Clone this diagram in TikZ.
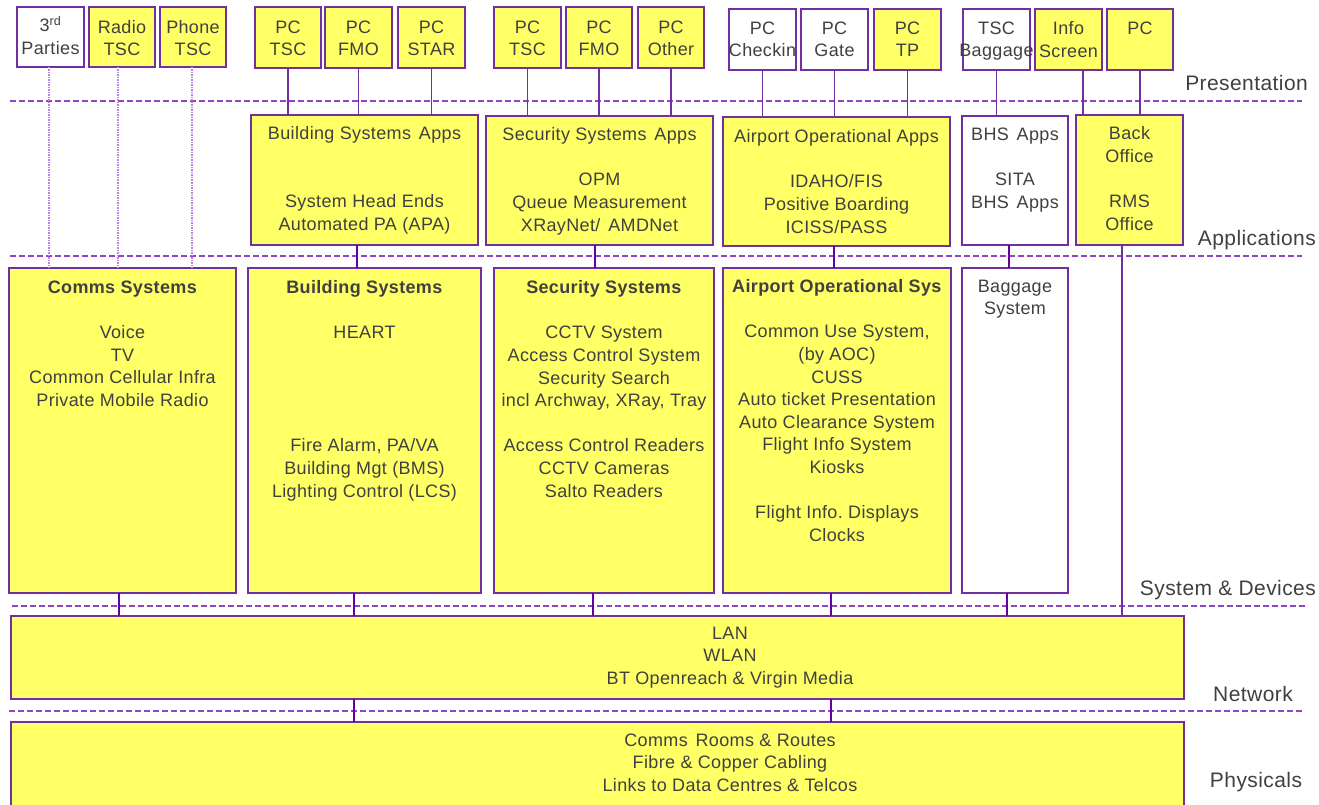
\documentclass[tikz,border=0pt]{standalone}
\usepackage{fontspec}
\setmainfont[LetterSpace=2]{Liberation Sans}
\definecolor{boxyellow}{RGB}{255,255,102}
\definecolor{edgepurple}{RGB}{112,48,160}
\definecolor{seppurple}{RGB}{140,70,195}
\definecolor{linkpurple}{RGB}{100,0,165}
\definecolor{dotpurple}{RGB}{185,130,225}
\definecolor{txtgray}{RGB}{64,64,64}

\tikzset{
  ybox/.style={draw=edgepurple, fill=boxyellow, line width=1.4pt, rectangle, inner sep=0pt, outer sep=0pt},
  wbox/.style={ybox, fill=white},
  boxtext/.style={text=txtgray, align=center, inner sep=0pt, font=\fontsize{18}{22.6}\selectfont},
  layertext/.style={text=txtgray, inner sep=0pt, font=\fontsize{21}{25}\selectfont},
  separator/.style={draw=seppurple, line width=1.3pt, dash pattern=on 5.5pt off 3.5pt},
  thinlink/.style={draw=edgepurple, line width=1.5pt},
  thicklink/.style={draw=linkpurple, line width=2.8pt},
  dotlink/.style={draw=dotpurple, line width=1.6pt, dash pattern=on 1.5pt off 1pt}
}

% \rbox{name}{style}{x1}{y1}{x2}{y2}: rectangle from top-left to bottom-right
\newcommand\rbox[6]{%
  \node[#2, anchor=north west, minimum width={#5-#3}, minimum height={#6-#4}] (#1) at (#3,#4) {};}
% \btext{name}{box}{offset}{text}: text hanging from the top of a box
\newcommand\btext[4]{%
  \node[boxtext, anchor=north, yshift=-#3pt] (#1) at (#2.north) {#4};}
% a slightly widened word gap
\newcommand\wgap{\ \hspace{2.5pt}}

\begin{document}
\frenchspacing
\begin{tikzpicture}[x=1pt, y=-1pt]
\useasboundingbox (0,0) rectangle (1319,805);

% layer separators
\draw[separator] (10,101) -- (1302,101);
\draw[separator] (10,256) -- (1302,256);
\draw[separator] (12,606) -- (1305,606);
\draw[separator] (9,711) -- (1302,711);

% layer labels
\node[layertext, anchor=east] (lpres) at (1308,83) {Presentation};
\node[layertext, anchor=east] (lapps) at (1316,240) {Applications};
\node[layertext, anchor=east] (lsys)  at (1316,590) {System \& Devices};
\node[layertext] (lnet)  at (1253,694) {Network};
\node[layertext] (lphys) at (1256,782) {Physicals};

% presentation layer
\rbox{p3rd}{wbox}{17}{7}{84}{67}
\rbox{pradio}{ybox}{89}{7}{155}{67}
\rbox{pphone}{ybox}{160}{7}{226}{67}
\rbox{ptsca}{ybox}{255}{7}{321}{68}
\rbox{pfmoa}{ybox}{325}{7}{392}{68}
\rbox{pstar}{ybox}{398}{7}{465}{68}
\rbox{ptscb}{ybox}{494}{7}{561}{68}
\rbox{pfmob}{ybox}{566}{7}{632}{68}
\rbox{pother}{ybox}{638}{7}{704}{68}
\rbox{pcheck}{wbox}{729}{9}{796}{70}
\rbox{pgate}{wbox}{801}{9}{868}{70}
\rbox{ptp}{ybox}{874}{9}{941}{70}
\rbox{ptscbag}{wbox}{963}{9}{1030}{70}
\rbox{pinfo}{ybox}{1035}{9}{1102}{70}
\rbox{ppc}{ybox}{1107}{9}{1173}{70}

\btext{t3rd}{p3rd}{9}{3\textsuperscript{rd}\\Parties}
\btext{tradio}{pradio}{13}{Radio\\TSC}
\btext{tphone}{pphone}{13}{Phone\\TSC}
\btext{ttsca}{ptsca}{13.5}{PC\\TSC}
\btext{tfmoa}{pfmoa}{13.5}{PC\\FMO}
\btext{tstar}{pstar}{13.5}{PC\\STAR}
\btext{ttscb}{ptscb}{13.5}{PC\\TSC}
\btext{tfmob}{pfmob}{13.5}{PC\\FMO}
\btext{tother}{pother}{13.5}{PC\\Other}
\btext{tcheck}{pcheck}{12.5}{PC\\Checkin}
\btext{tgate}{pgate}{12.5}{PC\\Gate}
\btext{ttp}{ptp}{12.5}{PC\\TP}
\btext{ttscbag}{ptscbag}{12.5}{TSC\\Baggage}
\btext{tinfo}{pinfo}{12.5}{Info\\Screen}
\btext{tpc}{ppc}{12.5}{PC}

% applications layer
\rbox{abld}{ybox}{251}{115}{478}{245}
\rbox{asec}{ybox}{486}{116}{713}{245}
\rbox{aair}{ybox}{723}{117}{950}{246}
\rbox{abhs}{wbox}{962}{116}{1068}{245}
\rbox{aback}{ybox}{1076}{115}{1183}{245}

\btext{tabld}{abld}{11.5}{Building Systems\wgap Apps\\ \\ \\System Head Ends\\Automated PA (APA)}
\btext{tasec}{asec}{11.5}{Security Systems\wgap Apps\\ \\OPM\\Queue Measurement\\XRayNet/\wgap AMDNet}
\btext{taair}{aair}{12.5}{Airport Operational Apps\\ \\IDAHO/FIS\\Positive Boarding\\ICISS/PASS}
\btext{tabhs}{abhs}{11.5}{BHS\wgap Apps\\ \\SITA\\BHS\wgap Apps}
\btext{taback}{aback}{11.5}{Back\\Office\\ \\RMS\\Office}

% systems & devices layer
\rbox{scomms}{ybox}{9}{268}{236}{593}
\rbox{sbld}{ybox}{248}{268}{481}{593}
\rbox{ssec}{ybox}{494}{268}{714}{593}
\rbox{sair}{ybox}{723}{268}{951}{593}
\rbox{sbag}{wbox}{962}{268}{1068}{593}

\btext{tscomms}{scomms}{12.5}{\textbf{Comms Systems}\\ \\Voice\\TV\\Common Cellular Infra\\Private Mobile Radio}
\btext{tsbld}{sbld}{12.5}{\textbf{Building Systems}\\ \\HEART\\ \\ \\ \\ \\Fire Alarm, PA/VA\\Building Mgt (BMS)\\Lighting Control (LCS)}
\btext{tssec}{ssec}{12.5}{\textbf{Security Systems}\\ \\CCTV System\\Access Control System\\Security Search\\incl Archway, XRay, Tray\\ \\Access Control Readers\\CCTV Cameras\\Salto Readers}
\btext{tsair}{sair}{11.5}{\textbf{Airport Operational Sys}\\ \\Common Use System,\\(by AOC)\\CUSS\\Auto ticket Presentation\\Auto Clearance System\\Flight Info System\\Kiosks\\ \\Flight Info. Displays\\Clocks}
\btext{tsbag}{sbag}{11.5}{Baggage\\System}

% network and physical layers
\rbox{net}{ybox}{11}{616}{1184}{699}
\rbox{phys}{ybox}{11}{722}{1184}{812}
\node[boxtext, anchor=north] (tnet) at (730,626.5) {LAN\\WLAN\\BT Openreach \& Virgin Media};
\node[boxtext, anchor=north] (tphys) at (730,733.5) {Comms\wgap Rooms \& Routes\\Fibre \& Copper Cabling\\Links to Data Centres \& Telcos};

% presentation to applications
\draw[dotlink] ([xshift=-1.5pt]p3rd.south) -- ([xshift=-1.5pt]p3rd.south |- scomms.north);
\draw[dotlink] ([xshift=-4pt]pradio.south) -- ([xshift=-4pt]pradio.south |- scomms.north);
\draw[dotlink] ([xshift=-1pt]pphone.south) -- ([xshift=-1pt]pphone.south |- scomms.north);
\foreach \src/\dst in {ptsca/abld, pfmoa/abld, pstar/abld, ptscb/asec, pfmob/asec, pother/asec,
                        pcheck/aair, pgate/aair, ptp/aair, ptscbag/abhs, ppc/aback}
  \draw[thinlink] (\src.south) -- (\src.south |- \dst.north);
\draw[thinlink] ([xshift=14.5pt]pinfo.south) -- ([xshift=14.5pt]pinfo.south |- aback.north);

% applications to systems
\draw[thicklink] ([xshift=-7.5pt]abld.south) -- ([xshift=-7.5pt]abld.south |- sbld.north);
\draw[thicklink] ([xshift=-4.5pt]asec.south) -- ([xshift=-4.5pt]asec.south |- ssec.north);
\draw[thicklink] ([xshift=-2.5pt]aair.south) -- ([xshift=-2.5pt]aair.south |- sair.north);
\draw[thicklink] ([xshift=-6pt]abhs.south) -- ([xshift=-6pt]abhs.south |- sbag.north);
\draw[thinlink] ([xshift=-7.5pt]aback.south) -- ([xshift=-7.5pt]aback.south |- net.north);

% systems to network
\draw[thicklink] ([xshift=-3.5pt]scomms.south) -- ([xshift=-3.5pt]scomms.south |- net.north);
\draw[thicklink] ([xshift=-10.5pt]sbld.south) -- ([xshift=-10.5pt]sbld.south |- net.north);
\draw[thicklink] ([xshift=-11pt]ssec.south) -- ([xshift=-11pt]ssec.south |- net.north);
\draw[thicklink] ([xshift=-6pt]sair.south) -- ([xshift=-6pt]sair.south |- net.north);
\draw[thicklink] ([xshift=-8pt]sbag.south) -- ([xshift=-8pt]sbag.south |- net.north);

% network to physical
\draw[thicklink] ([xshift=-243.5pt]net.south) -- ([xshift=-243.5pt]net.south |- phys.north);
\draw[thicklink] ([xshift=233.5pt]net.south) -- ([xshift=233.5pt]net.south |- phys.north);
\end{tikzpicture}
\end{document}
